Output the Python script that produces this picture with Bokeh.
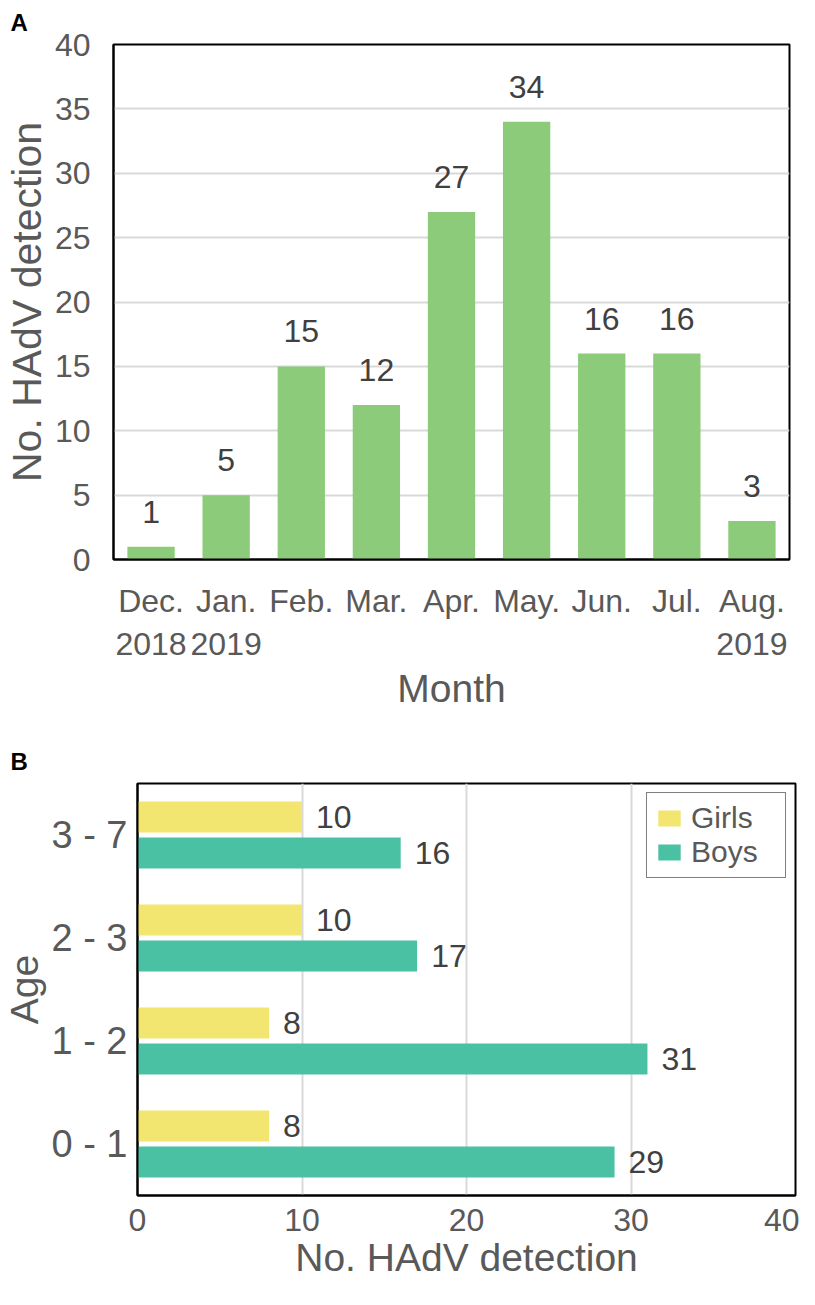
from bokeh.plotting import figure
from bokeh.models import FactorRange, Range1d, SingleIntervalTicker, ColumnDataSource
from bokeh.transform import dodge
from bokeh.embed import file_html
from bokeh.resources import INLINE
from bokeh.core.properties import value

# ---- data ----
months = ["Dec.\n2018", "Jan.\n2019", "Feb.", "Mar.", "Apr.", "May.", "Jun.", "Jul.", "Aug.\n2019"]
counts = [1, 5, 15, 12, 27, 34, 16, 16, 3]

ages = ["0 - 1", "1 - 2", "2 - 3", "3 - 7"]
girls = [8, 8, 10, 10]
boys = [29, 31, 17, 16]

FONT = "Liberation Sans"
TICK_C = "#595959"
LBL_C = "#404040"
GRID_C = "#d9d9d9"

# ---- panel A ----
pa = figure(width=799, height=724, x_range=FactorRange(*months, range_padding=0),
            y_range=Range1d(0, 40), output_backend="svg", toolbar_location=None,
            min_border_left=113, min_border_right=10, min_border_top=44, min_border_bottom=165)
src_a = ColumnDataSource(dict(month=months, count=counts, txt=[str(c) for c in counts]))
pa.vbar(x="month", top="count", width=0.63, source=src_a, fill_color="#8CCB7A", line_color=None)
pa.text(x="month", y="count", text="txt", source=src_a, text_align="center",
        text_baseline="middle", y_offset=-35, text_font=value(FONT),
        text_font_size="32px", text_color=LBL_C)

pa.title.text = "A"
pa.title.align = "left"
pa.title.vertical_align = "top"
pa.title.offset = -103
pa.title.standoff = 14
pa.title.text_font = FONT
pa.title.text_font_size = "24px"
pa.title.text_font_style = "bold"
pa.title.text_color = "black"

pa.yaxis.ticker = SingleIntervalTicker(interval=5)
pa.xgrid.grid_line_color = None
pa.ygrid.grid_line_color = GRID_C
pa.ygrid.grid_line_width = 2
pa.outline_line_color = "black"
pa.outline_line_width = 2
for ax in (pa.xaxis, pa.yaxis):
    ax.axis_line_color = "black"
    ax.axis_line_width = 2
    ax.major_tick_line_color = None
    ax.minor_tick_line_color = None
    ax.major_label_text_font = FONT
    ax.major_label_text_font_size = "32px"
    ax.major_label_text_color = TICK_C
    ax.axis_label_text_font = FONT
    ax.axis_label_text_font_size = "39px"
    ax.axis_label_text_font_style = "normal"
    ax.axis_label_text_color = TICK_C
pa.yaxis.axis_label = "No. HAdV detection"
pa.yaxis.axis_label_text_font_size = "41px"
pa.yaxis.major_label_standoff = 17
pa.yaxis.axis_label_standoff = 2
pa.xaxis.axis_label = "Month"
pa.xaxis.major_label_standoff = 17
pa.xaxis.axis_label_standoff = 2

# ---- panel B ----
pb = figure(width=799, height=565, y_range=FactorRange(*ages, range_padding=0),
            x_range=Range1d(0, 40), output_backend="svg", toolbar_location=None,
            min_border_left=137, min_border_right=4, min_border_top=59, min_border_bottom=94)
src_b = ColumnDataSource(dict(age=ages, girls=girls, boys=boys,
                              gtxt=[str(v) for v in girls], btxt=[str(v) for v in boys]))
pb.hbar(y=dodge("age", 0.175, range=pb.y_range), right="girls", left=0, height=0.30,
        source=src_b, fill_color="#F2E570", line_color=None, legend_label="Girls")
pb.hbar(y=dodge("age", -0.175, range=pb.y_range), right="boys", left=0, height=0.30,
        source=src_b, fill_color="#4BC1A4", line_color=None, legend_label="Boys")
pb.text(x="girls", y=dodge("age", 0.175, range=pb.y_range), text="gtxt", source=src_b,
        text_align="left", text_baseline="middle", x_offset=14, text_font=value(FONT),
        text_font_size="32px", text_color=LBL_C)
pb.text(x="boys", y=dodge("age", -0.175, range=pb.y_range), text="btxt", source=src_b,
        text_align="left", text_baseline="middle", x_offset=14, text_font=value(FONT),
        text_font_size="32px", text_color=LBL_C)

pb.title.text = "B"
pb.title.align = "left"
pb.title.vertical_align = "top"
pb.title.offset = -127
pb.title.standoff = 13
pb.title.text_font = FONT
pb.title.text_font_size = "24px"
pb.title.text_font_style = "bold"
pb.title.text_color = "black"

pb.xaxis.ticker = SingleIntervalTicker(interval=10)
pb.ygrid.grid_line_color = None
pb.xgrid.grid_line_color = GRID_C
pb.xgrid.grid_line_width = 2
pb.outline_line_color = "black"
pb.outline_line_width = 2
for ax in (pb.xaxis, pb.yaxis):
    ax.axis_line_color = "black"
    ax.axis_line_width = 2
    ax.major_tick_line_color = None
    ax.minor_tick_line_color = None
    ax.major_label_text_font = FONT
    ax.major_label_text_color = TICK_C
    ax.axis_label_text_font = FONT
    ax.axis_label_text_font_size = "39px"
    ax.axis_label_text_font_style = "normal"
    ax.axis_label_text_color = TICK_C
pb.xaxis.major_label_text_font_size = "32px"
pb.yaxis.major_label_text_font_size = "38px"
pb.yaxis.axis_label = "Age"
pb.yaxis.major_label_standoff = 4
pb.yaxis.axis_label_standoff = 2
pb.xaxis.axis_label = "No. HAdV detection"
pb.xaxis.major_label_standoff = 7
pb.xaxis.axis_label_standoff = 2

pb.legend.location = "top_right"
pb.legend.margin = 9
pb.legend.padding = 8
pb.legend.spacing = 0
pb.legend.border_line_color = "black"
pb.legend.border_line_width = 1.5
pb.legend.label_text_font = FONT
pb.legend.label_text_font_size = "30px"
pb.legend.label_text_color = TICK_C
pb.legend.glyph_width = 28
pb.legend.glyph_height = 20
pb.legend.label_standoff = 8
pb.legend.label_width = 86

open("out.html", "w").write(file_html([pa, pb], INLINE))
